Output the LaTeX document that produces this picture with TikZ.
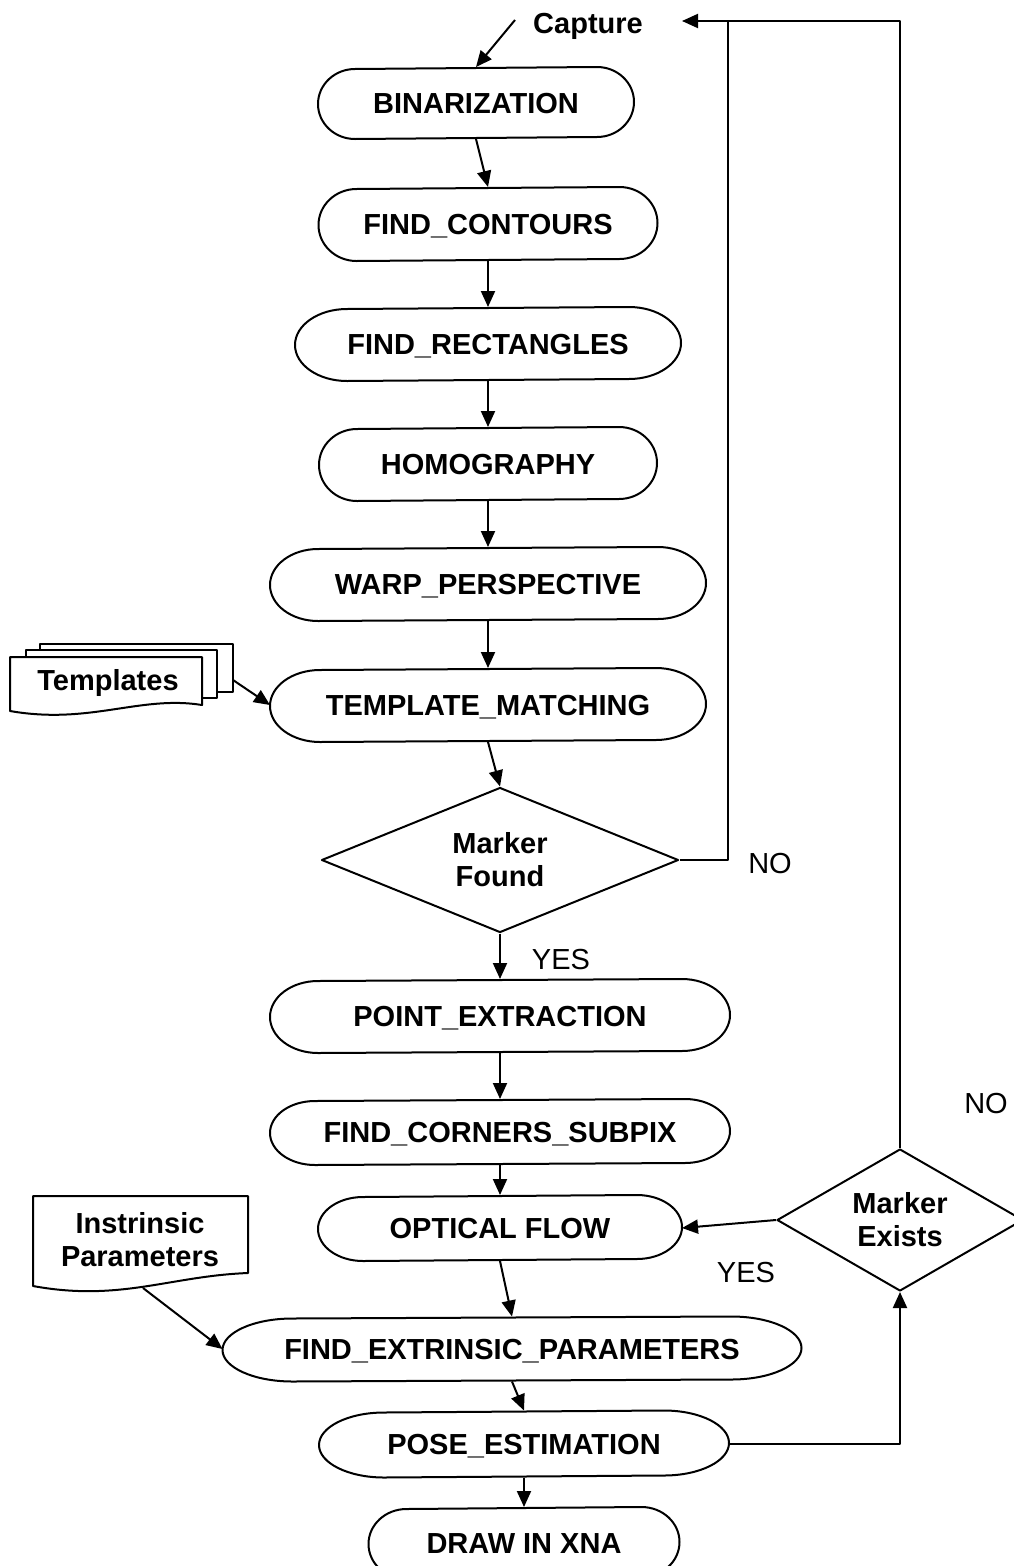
\documentclass[tikz,border=0pt]{standalone}
\usepackage{fontspec}
\setmainfont{Liberation Sans}
\usetikzlibrary{arrows.meta,shapes.geometric}

% outline of a process box: node, end radius, half height
\newcommand\termline[3]{%
  \draw ([xshift=-#2]#1.north east)
    arc[start angle=90,end angle=-90,x radius=#2,y radius=#3]
    -- ([xshift=#2]#1.south west)
    arc[start angle=270,end angle=90,x radius=#2,y radius=#3] -- cycle;}

\begin{document}
\begin{tikzpicture}[x=1pt,y=-1pt,line width=2pt,line join=round,
  arr/.style={-{Triangle[length=16pt,width=14pt]}},
  proc/.style={font=\bfseries\fontsize{29}{33}\selectfont,inner sep=0pt,text height=21pt,text depth=0pt},
  docl/.style={font=\bfseries\fontsize{29}{33}\selectfont,inner sep=0pt,align=center},
  decide/.style={diamond,draw,shape aspect=2,inner sep=0pt,align=center,font=\bfseries\fontsize{29}{33}\selectfont},
  lbl/.style={font=\fontsize{29}{33}\selectfont,inner sep=0pt}]
  \useasboundingbox (0,0) rectangle (1013,1566);

  % main chain
  \node[proc,minimum width=314pt,minimum height=70pt] (bin) at (476,103) {BINARIZATION};
  \node[proc,minimum width=337pt,minimum height=72pt] (contours) at (488,224) {FIND\_CONTOURS};
  \node[proc,minimum width=384pt,minimum height=72pt] (rects) at (488,344) {FIND\_RECTANGLES};
  \node[proc,minimum width=336pt,minimum height=72pt] (homog) at (488,464) {HOMOGRAPHY};
  \node[proc,minimum width=434pt,minimum height=72pt] (warp) at (488,584) {WARP\_PERSPECTIVE};
  \node[proc,minimum width=434pt,minimum height=72pt] (template) at (488,705) {TEMPLATE\_MATCHING};
  \node[decide,minimum width=357pt,minimum height=145pt] (found) at (500,860) {Marker\\Found};
  \node[proc,minimum width=458pt,minimum height=72pt] (point) at (500,1016) {POINT\_EXTRACTION};
  \node[proc,minimum width=458pt,minimum height=64pt] (corners) at (500,1132) {FIND\_CORNERS\_SUBPIX};
  \node[proc,minimum width=362pt,minimum height=64pt] (optical) at (500,1228) {OPTICAL FLOW};
  \node[proc,minimum width=577pt,minimum height=63pt] (extr) at (512,1349) {FIND\_EXTRINSIC\_PARAMETERS};
  \node[proc,minimum width=408pt,minimum height=65pt] (pose) at (524,1444) {POSE\_ESTIMATION};
  \node[proc,minimum width=309pt,minimum height=70pt] (xna) at (524,1543) {DRAW IN XNA};
  \node[decide,minimum width=246pt,minimum height=142pt] (exists) at (900,1220) {Marker\\Exists};

  \termline{bin}{37pt}{35pt}
  \termline{contours}{38pt}{36pt}
  \termline{rects}{52pt}{36pt}
  \termline{homog}{38pt}{36pt}
  \termline{warp}{48pt}{36pt}
  \termline{template}{50pt}{36pt}
  \termline{point}{48pt}{36pt}
  \termline{corners}{45pt}{32pt}
  \termline{optical}{45pt}{32pt}
  \termline{extr}{70pt}{31.5pt}
  \termline{pose}{65pt}{32.5pt}
  \termline{xna}{38pt}{35pt}

  % templates stack
  \draw[fill=white] (40,644) rectangle (233,692);
  \draw[fill=white] (26,650) rectangle (217,698);
  \draw[fill=white] (10,657) -- (202,657) -- (202,705)
    .. controls (140,695) and (90,725) .. (10,711) -- cycle;
  \node[proc] (tmpl) at (108,680) {Templates};
  \coordinate (tmplout) at (233,680);

  % intrinsic parameters
  \draw (33,1196) -- (248,1196) -- (248,1273)
    .. controls (170,1276) and (120,1302) .. (33,1286) -- cycle;
  \node[docl] (intr) at (140,1240) {Instrinsic\\Parameters};
  \coordinate (introut) at (143,1288);

  % capture
  \node[proc] (cap) at (588,23) {Capture};
  \coordinate (capin) at (515,20);
  \coordinate (loopend) at (682,21);
  \coordinate (jn) at (728,21);

  \draw[arr] (capin) -- (bin.north);
  \draw[arr] (bin.south) -- (contours.north);
  \draw[arr] (contours.south) -- (rects.north);
  \draw[arr] (rects.south) -- (homog.north);
  \draw[arr] (homog.south) -- (warp.north);
  \draw[arr] (warp.south) -- (template.north);
  \draw[arr] (template.south) -- (found.north);
  \draw[arr] (found.south) -- (point.north);
  \draw[arr] (point.south) -- (corners.north);
  \draw[arr] (corners.south) -- (optical.north);
  \draw[arr] (optical.south) -- (extr.north);
  \draw[arr] (extr.south) -- (pose.north);
  \draw[arr] (pose.south) -- (xna.north);
  \draw[arr] (tmplout) -- (template.west);
  \draw[arr] (introut) -- (extr.west);

  % loops
  \draw[arr] (found.east) -| (jn) -- (loopend);
  \draw (exists.north) |- (jn);
  \draw[arr] (pose.east) -| (exists.south);
  \draw[arr] (exists.west) -- (optical.east);

  \node[lbl] (no1) at (770,864) {NO};
  \node[lbl] (yes1) at (561,960) {YES};
  \node[lbl] (no2) at (986,1104) {NO};
  \node[lbl] (yes2) at (746,1272) {YES};
\end{tikzpicture}
\end{document}
